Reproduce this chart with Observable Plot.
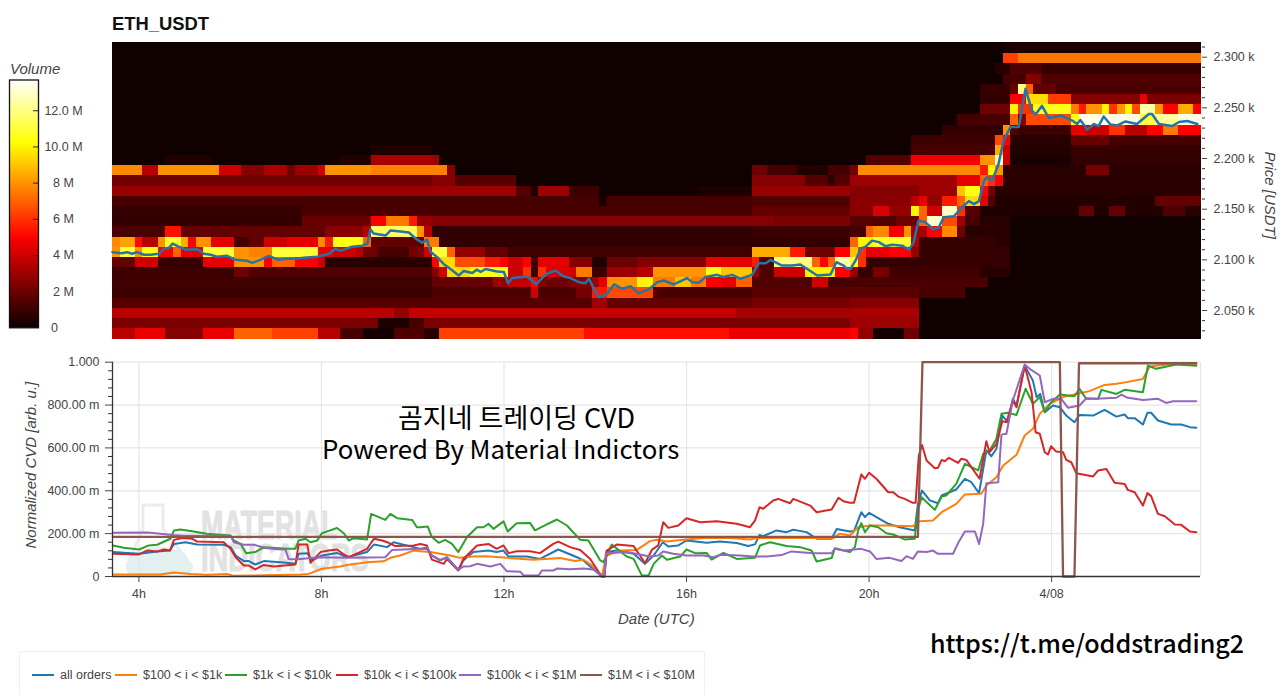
<!DOCTYPE html>
<html>
<head>
<meta charset="utf-8">
<script src="https://cdn.jsdelivr.net/npm/d3@7"></script>
<script src="https://cdn.jsdelivr.net/npm/@observablehq/plot@0.6"></script>
<style>
html,body{margin:0;padding:0;background:#fff;overflow:hidden}
#page{position:relative;width:1280px;height:695px;overflow:hidden;font-family:"Liberation Sans",Arial,sans-serif;color:#444}
#page>svg,#page>div,#page>figure{position:absolute;margin:0}
.t{white-space:nowrap;line-height:1}
.ital{font-style:italic;font-size:15px;color:#444}
.over{font-family:"Noto Sans CJK KR","Noto Sans",sans-serif;color:#000}
</style>
</head>
<body>
<div id="page"></div>
<script>
// ---- heatmap: run lengths [endColumn, volume in M, ...], 10-minute columns, rows top to bottom
const row00=[117,.1,143,.35];
const row01=[117,.1,119,6.3,143,7.4];
const row02=[116,.1,118,.6,122,1.4,143,.9];
const row03=[117,.1,120,1.2,122,2.5,143,1.4];
const row04=[114,.1,118,.9,119,1.8,120,12,121,7,124,1.8,143,1.3];
const row05=[114,.1,118,.8,120,5,123,9.5,126,6.2,135,2.5,136,4.6,143,2.3];
const row06=[114,.1,118,2,119,10,121,6,126,10.5,127,7.5,128,5.5,130,8,131,10,132,6,133,8,134,10,135,6.5,137,12.5,138,8,140,5,142,8.5,143,5];
const row07=[111,.1,118,1.2,119,7,120,2.5,126,6.5,127,10.5,135,13.3,137,11,140,12.3,143,13.3];
const row08=[109,.1,117,.8,118,8,119,1.5,126,1,128,4.5,131,4,133,6,136,3.5,138,5,140,7.5,143,5];
const row09=[105,.1,116,1,117,6.5,118,5,126,.6,131,1.9,143,1.2];
const row10=[34,.1,42,.4,105,.1,116,1.2,117,8.5,118,4,126,.5,143,.9];
const row11=[7,.1,13,.5,30,.1,34,.5,42,3.2,43,3,99,.1,105,1.5,114,4.8,116,8,117,13,118,4,126,.3,143,.8];
const row12=[4,7.8,6,3.5,14,8,17,4,20,2.5,23,3.3,24,2,27,3,28,4,34,8,44,7.6,45,2.5,84,.1,86,2,90,1.2,94,.5,97,1.2,98,2.2,114,7.8,115,5.5,116,10,117,8,128,.6,131,2.2,143,.7];
const row13=[42,2.1,45,2.5,53,1.5,84,.1,91,2.5,94,1.5,95,.8,97,1.5,111,3,114,4.5,115,7,116,6,117,5,143,.7];
const row14=[42,2.9,53,3,55,1.5,56,.4,60,3,64,1,77,.15,84,.4,97,2.9,106,2.5,111,3,112,9,114,10.5,115,5,116,2,143,.6];
const row15=[64,1.2,65,.3,84,1.2,97,1.4,105,2.6,106,3.6,107,4.5,109,2.8,111,5.5,112,7,114,9.5,115,4.5,116,1.5,137,.5,143,1.8];
const row16=[25,.9,42,1.3,84,1.2,97,1.8,100,2.6,102,4.2,105,2.8,106,10,107,7,109,4,111,13,112,6,114,1.5,127,.4,129,1.8,131,.4,133,1.8,138,.5,141,1.4,143,.6];
const row17=[25,.8,34,1.9,36,5,39,7.5,40,5.5,42,2.8,87,2.5,97,2.3,100,1.6,103,1.5,106,2,107,7,109,13,111,6.5,112,3,114,1.2,118,.6,143,.12];
const row18=[7,1.3,9,5.3,28,1.8,33,2.6,34,3.5,40,11.5,41,8,42,3.5,84,.8,97,1,99,1.2,100,7,102,7.8,104,4.8,105,8,106,3,107,3.2,109,5,111,7.8,112,2,118,.6,143,.1];
const row19=[1,7.8,3,8.3,4,5.2,6,3.5,7,8,9,10.8,10,8.5,11,5,13,8,16,4.5,18,1.2,20,1.8,23,4,27,4.5,28,7.8,29,5.5,33,10.5,34,7,41,1.8,43,7.5,97,.8,98,7,100,10,105,10.8,106,3.5,116,.9,118,.6,143,.1];
const row20=[1,8,3,11,4,8,6,10.5,8,5,9,7,12,4.5,16,11,18,8,21,7.6,27,11,29,4.5,32,4,33,3.5,35,2,39,1.2,41,2.2,42,4,44,11,45,7,49,2.8,52,1.8,84,1.1,89,8.5,91,5.5,95,2,97,5,98,9,99,6,102,4.5,105,5,106,2.8,118,.9,143,.1];
const row21=[3,1.8,6,4,12,.9,16,4.5,20,8,21,5,24,7,27,5,28,4,42,.6,43,5,45,9.5,49,6.5,51,5.5,52,5,54,4,55,5,56,1,60,4.5,63,2.5,65,.5,69,2,78,2.5,84,4.5,85,5.5,87,1.5,92,12,93,7,94,5,95,7,97,12.5,98,11,99,6,118,.9,143,.1];
const row22=[16,1,18,2,42,1.4,43,2.5,44,4,47,9.5,52,10.5,54,4,55,6,56,1,57,6,60,4.2,61,4,63,7.5,65,1,69,3,71,3.5,78,8,80,10.5,84,9,85,3,87,1.4,91,4,95,10,97,5,98,2.8,100,.9,102,2.2,114,1.1,118,.6,143,.1];
const row23=[42,1.1,50,1.8,52,3,55,3.8,56,5,57,2.5,60,2,63,2.5,64,3,65,4.5,69,8,71,10,74,7.5,76,9,78,7.5,80,5,82,4.5,84,7,92,1.4,94,4,97,1.2,115,1.3,143,.1];
const row24=[42,1,55,1.4,56,4,61,1.3,63,2.2,65,5.5,71,6.5,72,1.5,84,1.3,106,1.6,112,1.3,143,.1];
const row25=[63,1.5,65,3,84,1.8,97,2.2,106,2.5,143,.1];
const row26=[37,3.6,39,2.8,82,3.8,106,3.2,143,.1];
const row27=[35,2.3,39,.4,41,1.2,97,2.3,106,3,143,.1];
const row28=[3,3.6,7,4.6,12,2.5,16,4.6,21,7,27,6.3,30,3.5,33,1.2,37,.2,41,1.4,43,.6,62,6.3,81,5.3,97,4.6,98,5,100,2.8,104,.2,106,2,143,.1];
const volumeRows=[row00,row01,row02,row03,row04,row05,row06,row07,row08,row09,row10,row11,row12,row13,row14,row15,row16,row17,row18,row19,row20,row21,row22,row23,row24,row25,row26,row27,row28];

// ---- price line: hour, USDT
const priceLine=[3.42,2107.6,3.63,2106.6,3.74,2107.6,3.85,2106,3.96,2107.6,4.11,2105,4.25,2105,4.44,2106,4.55,2111,4.66,2112,4.74,2116,4.87,2113,5.02,2110,5.28,2110.5,5.42,2106,5.57,2105,5.71,2103,5.93,2104,6.11,2100,6.37,2099,6.48,2097,6.66,2100,6.84,2104,7.06,2100,7.24,2101,7.43,2101,7.61,2102,7.9,2103,8.16,2106,8.3,2111,8.41,2109,8.67,2113,8.89,2114,9,2116,9.07,2130,9.14,2126,9.4,2124,9.51,2129,9.73,2128,9.91,2127,10.06,2121,10.2,2117,10.31,2120,10.38,2108,10.53,2102.7,10.67,2096,10.82,2091,11,2084.6,11.11,2089,11.3,2087,11.4,2090.5,11.48,2088,11.59,2091,11.84,2088.5,11.99,2088,12.08,2077,12.17,2082,12.5,2083.6,12.7,2076,12.9,2085.6,13.12,2089.5,13.3,2083.6,13.45,2082,13.63,2078,13.78,2077,13.85,2081.6,13.96,2071.4,14.07,2063,14.25,2066.5,14.4,2075.7,14.58,2071.4,14.76,2074,14.94,2067,15.16,2070.8,15.35,2078,15.49,2079.6,15.71,2075.7,16,2082,16.11,2078,16.26,2077.3,16.4,2083,16.66,2085.2,16.8,2083,16.99,2085.2,17.17,2081.3,17.42,2085.2,17.57,2096.7,17.72,2096.7,17.83,2100,18.08,2094.4,18.3,2094.4,18.48,2095.4,18.63,2091,18.85,2084.6,19.14,2085.6,19.27,2097.7,19.43,2094.4,19.5,2091,19.58,2091.2,19.69,2099.4,19.8,2111,19.91,2113,20.05,2119,20.2,2117.5,20.34,2113.5,20.49,2115,20.71,2114,20.86,2110,20.96,2117.5,21.07,2139,21.22,2137,21.4,2130,21.51,2132,21.62,2142,21.84,2143,22.06,2153.7,22.17,2158,22.28,2155,22.39,2158,22.5,2178,22.57,2181.6,22.68,2178,22.82,2194.8,22.93,2217.8,23.08,2231,23.26,2231,23.41,2268.8,23.55,2247.4,23.63,2243.5,23.77,2252,23.92,2240,24.18,2242.5,24.43,2237.5,24.54,2234,24.61,2238,24.76,2228.7,24.91,2234,25.01,2232,25.12,2241.5,25.27,2233.6,25.42,2232.6,25.6,2236.6,25.85,2234,26.11,2244,26.18,2244,26.33,2234,26.62,2232,26.77,2236,26.95,2237,27.17,2234];

// ---- CVD series: hour, normalized value
const allOrders=[3.43,.114,4,.106,4.4,.117,4.68,.121,4.77,.152,5.02,.16,5.28,.149,5.86,.148,6.01,.137,6.12,.098,6.3,.072,6.41,.072,6.55,.056,6.74,.072,7.17,.065,7.43,.059,7.5,.106,7.69,.109,7.8,.075,8.01,.098,8.34,.11,8.56,.09,9,.114,9.15,.149,9.44,.137,9.58,.16,10.02,.137,10.17,.129,10.31,.129,10.42,.098,10.6,.075,10.75,.09,11,.031,11.11,.075,11.33,.114,11.66,.121,11.84,.114,11.99,.121,12.1,.093,12.5,.093,12.79,.082,13.19,.126,13.6,.09,13.74,.075,14.14,0,14.2,0,14.25,.114,14.47,.121,14.84,.106,15.09,.059,15.28,.098,15.48,.16,15.6,.14,15.82,.145,16,.168,16.44,.157,16.73,.163,17.1,.156,17.35,.142,17.5,.15,17.6,.194,17.68,.188,17.97,.215,18.19,.207,18.34,.218,18.63,.207,18.85,.176,19.18,.176,19.29,.222,19.58,.21,19.67,.212,19.83,.3,19.91,.277,20,.297,20.42,.246,20.67,.23,21,.215,21.07,.339,21.16,.401,21.33,.355,21.51,.342,21.59,.378,21.91,.406,22.1,.456,22.24,.44,22.41,.389,22.57,.588,22.68,.561,22.79,.596,22.92,.751,23.04,.72,23.15,.829,23.23,.798,23.41,.984,23.59,.914,23.67,.837,23.75,.852,23.85,.767,24.03,.798,24.18,.79,24.32,.751,24.5,.72,24.61,.754,24.91,.751,25.16,.778,25.42,.746,25.6,.756,25.67,.739,25.82,.739,26,.709,26.1,.764,26.18,.764,26.33,.728,26.62,.709,26.84,.709,27.03,.697,27.17,.694];
const orders100=[3.43,.009,4.47,.009,4.77,.019,5.13,.012,5.49,.008,5.93,.012,6.08,.003,7.54,.009,7.72,.012,8.01,.036,8.41,.047,8.56,.054,9,.067,9.36,.071,9.55,.09,9.73,.098,10.02,.121,10.17,.118,10.38,.114,10.6,.106,10.82,.098,11.04,.087,11.33,.093,11.62,.095,12.06,.087,12.65,.078,13.23,.086,13.56,.072,13.74,.078,13.96,.047,14.14,0,14.25,.098,14.54,.121,14.91,.124,15.2,.165,15.35,.171,15.57,.163,15.93,.171,16.37,.18,16.95,.18,17.39,.173,17.54,.18,18.19,.18,18.78,.18,19.22,.18,19.36,.2,19.58,.191,19.76,.23,20.02,.238,20.38,.238,20.96,.235,21.11,.258,21.4,.261,21.59,.3,21.91,.339,22.1,.383,22.46,.386,22.57,.425,22.79,.463,22.94,.518,23.23,.568,23.41,.658,23.59,.689,23.74,.759,23.96,.806,24.25,.837,24.54,.852,24.83,.865,25.16,.894,25.42,.899,25.64,.907,26,.922,26.15,.98,26.51,.989,26.88,.995,27.17,.989];
const orders1k=[3.43,.145,3.67,.134,4,.126,4.22,.145,4.4,.148,4.69,.176,4.77,.215,4.91,.219,5.2,.21,5.49,.199,6.01,.191,6.08,.168,6.23,.152,6.35,.109,6.55,.114,6.74,.137,7.25,.129,7.43,.129,7.5,.168,7.65,.176,7.76,.16,7.91,.168,8.01,.202,8.16,.213,8.34,.226,8.49,.202,8.6,.168,8.71,.179,9,.173,9.09,.292,9.4,.264,9.51,.292,9.66,.272,9.99,.264,10.09,.23,10.17,.23,10.33,.233,10.42,.184,10.57,.157,10.71,.171,10.86,.152,11,.114,11.19,.184,11.41,.23,11.55,.23,11.66,.246,11.77,.222,11.99,.257,12.08,.21,12.28,.249,12.57,.25,12.68,.215,12.94,.243,13.16,.266,13.38,.238,13.67,.171,13.85,.168,14.11,.075,14.18,.067,14.36,.149,14.69,.093,14.84,.082,15.02,.005,15.17,.005,15.28,.059,15.46,.098,15.57,.078,15.86,.093,16,.126,16.19,.109,16.44,.11,16.55,.079,16.81,.11,17.1,.082,17.5,.087,17.61,.145,17.83,.16,18.19,.142,18.49,.137,18.74,.121,18.85,.07,19.18,.086,19.25,.132,19.58,.114,19.69,.137,19.76,.215,19.83,.249,19.91,.207,20.02,.238,20.2,.23,20.38,.202,20.53,.196,20.78,.173,21,.176,21.07,.308,21.15,.37,21.44,.311,21.59,.373,21.69,.378,21.91,.432,22.1,.526,22.39,.495,22.5,.572,22.64,.588,22.79,.642,22.9,.759,23.04,.764,23.23,.754,23.43,.876,23.59,.806,23.74,.837,23.85,.767,23.99,.813,24.18,.849,24.5,.841,24.61,.876,24.76,.829,25.02,.829,25.09,.871,25.42,.852,25.6,.871,26,.86,26.11,.984,26.29,.969,26.73,.989,27.17,.984];
const orders10k=[3.43,.106,4,.103,4.18,.121,4.4,.117,4.55,.126,4.68,.121,4.77,.171,4.95,.18,5.17,.176,5.28,.163,5.86,.16,6.01,.129,6.12,.09,6.3,.051,6.41,.051,6.55,.033,6.74,.054,6.96,.047,7.43,.056,7.5,.149,7.69,.149,7.76,.064,7.98,.114,8.16,.121,8.34,.126,8.49,.103,8.6,.09,9,.129,9.15,.176,9.33,.168,9.44,.16,9.62,.142,10.02,.145,10.17,.152,10.31,.145,10.42,.079,10.68,.059,10.75,.082,11,.028,11.11,.082,11.41,.145,11.66,.152,11.84,.129,11.99,.145,12.1,.109,12.28,.118,12.57,.118,12.79,.109,13.08,.152,13.19,.163,13.45,.137,13.67,.124,13.89,.082,14.14,0,14.2,0,14.25,.121,14.47,.149,14.84,.142,14.98,.098,15.09,.062,15.24,.124,15.38,.145,15.49,.253,15.6,.227,15.82,.238,16,.272,16.3,.253,16.66,.258,17.1,.246,17.39,.23,17.5,.261,17.6,.323,17.68,.316,17.9,.355,18.01,.362,18.27,.342,18.34,.362,18.71,.331,18.85,.3,19.18,.313,19.33,.367,19.44,.351,19.58,.344,19.67,.344,19.83,.476,19.91,.456,20,.484,20.16,.456,20.42,.393,20.53,.393,20.64,.373,20.78,.362,20.96,.344,21.02,.344,21.09,.565,21.16,.614,21.26,.541,21.44,.505,21.51,.507,21.59,.544,21.66,.538,21.75,.554,21.95,.53,22.02,.549,22.13,.544,22.42,.456,22.57,.631,22.64,.58,22.79,.619,22.92,.725,23.01,.72,23.15,.821,23.23,.79,23.41,.984,23.56,.86,23.65,.673,23.74,.666,23.85,.58,23.92,.569,23.99,.608,24.1,.583,24.25,.58,24.32,.544,24.43,.533,24.54,.482,24.91,.467,25.02,.495,25.2,.502,25.38,.437,25.6,.432,25.67,.404,25.82,.393,26,.331,26.1,.389,26.18,.375,26.33,.292,26.48,.281,26.7,.243,26.84,.241,27.03,.21,27.17,.207];
const orders100k=[3.43,.204,4.18,.205,4.47,.2,4.73,.194,4.99,.19,6.01,.19,6.08,.16,6.3,.148,6.52,.148,6.74,.134,7.03,.127,7.21,.126,7.28,.082,7.47,.08,7.98,.09,8.56,.087,9.4,.09,9.55,.124,10.17,.129,10.31,.137,10.42,.098,10.6,.078,10.75,.087,11,.031,11.11,.047,11.26,.048,11.41,.059,11.7,.047,11.92,.059,12.06,.025,12.36,.022,12.43,.005,12.76,.005,12.83,.028,13.08,.028,13.16,.037,13.45,.034,13.74,.037,14,.031,14.14,0,14.2,0,14.23,.106,14.36,.11,14.69,.114,14.98,.103,15.2,.093,15.38,.098,15.49,.117,15.71,.106,16,.098,16.37,.098,16.59,.09,16.73,.101,17.17,.098,17.46,.093,17.76,.093,18.08,.1,18.3,.117,18.78,.109,19.18,.109,19.25,.129,19.44,.121,19.58,.124,19.83,.129,20.02,.117,20.16,.082,20.45,.087,20.71,.072,20.82,.095,20.96,.082,21.07,.117,21.26,.114,21.4,.121,21.51,.106,21.84,.106,21.95,.156,22.1,.21,22.32,.21,22.41,.152,22.5,.246,22.57,.435,22.83,.44,22.9,.662,23.01,.666,23.15,.821,23.41,.989,23.52,.969,23.74,.938,23.85,.813,24.03,.829,24.21,.829,24.36,.787,24.61,.798,24.76,.832,24.98,.829,25.42,.834,25.53,.849,25.67,.834,26,.824,26.33,.829,26.51,.81,26.66,.818,27.17,.818];
const orders1M=[3.43,.185,21,.185,21.07,.185,21.17,1,24.18,1,24.25,0,24.5,0,24.6,.995,27.17,.995];

const seriesNames=["all orders","$100 < i < $1k","$1k < i < $10k","$10k < i < $100k","$100k < i < $1M","$1M < i < $10M"];
const seriesColors=["#1f77b4","#ff7f0e","#2ca02c","#d62728","#9467bd","#8c564b"];
const seriesData=[allOrders,orders100,orders1k,orders10k,orders100k,orders1M];

// ---- ticks and labels
const priceTicks=[2050,2100,2150,2200,2250,2300];
const priceMinor=[2030,2040,2060,2070,2080,2090,2110,2120,2130,2140,2160,2170,2180,2190,2210,2220,2230,2240,2260,2270,2280,2290,2310];
const cvdTicks=[0,.2,.4,.6,.8,1];
const cvdMinor=[.04,.08,.12,.16,.24,.28,.32,.36,.44,.48,.52,.56,.64,.68,.72,.76,.84,.88,.92,.96];
const timeTicks=[4,8,12,16,20,24];
const timeLabels=["4h","8h","12h","16h","20h","4/08"];
const volumeTicks=[2,4,6,8,10,12];
const legendX=[32,115,225,336,459,580];

const page=document.getElementById("page");
const at=h=>new Date(Date.UTC(2021,3,7)+h*36e5);
const pairs=a=>d3.range(0,a.length,2).map(i=>({h:a[i],v:a[i+1]}));
const tStart=3.422, tEnd=27.262, colHours=1/6;
const pTop=2303.4, pStep=10.05, pMin=2021.4, pMax=2314.5;
const colorScale={type:"linear",domain:[0,5,10.2,13.7],range:["#0b0000","#ff0000","#ffff00","#ffffff"]};
const baseStyle={background:"transparent",fontFamily:'"Liberation Sans",Arial,sans-serif',fontSize:"12.5px",color:"#444",overflow:"visible"};

// expand runs
const cells=[];
volumeRows.forEach((row,k)=>{
  let start=0;
  for(let i=0;i<row.length;i+=2){
    cells.push({
      c0:at(tStart+start*colHours),c1:at(tStart+row[i]*colHours),
      p1:k===0?pMax:pTop-(k-1)*pStep,
      p0:k===volumeRows.length-1?pMin:pTop-k*pStep,
      v:row[i+1]});
    start=row[i];
  }
});

function place(el,left,top){el.style.position="absolute";el.style.left=left+"px";el.style.top=top+"px";page.appendChild(el);return el;}
function label(text,left,top,cls,extra){const d=document.createElement("div");d.className="t "+(cls||"");d.textContent=text;Object.assign(d.style,extra||{});return place(d,left,top);}

// watermark under the CVD chart
const wm=document.createElement("div");
wm.innerHTML=`<svg width="74" height="72" viewBox="0 0 74 72" style="display:block"><path d="M18 2H38V26L66 62Q68 70 58 70H10Q0 70 3 60L18 26Z" fill="none" stroke="#ebebeb" stroke-width="3"/><path d="M8 50Q34 38 60 50L66 62Q68 70 58 70H10Q0 70 3 60Z" fill="#e3f0f0"/></svg>`;
place(wm,125,503);
const wmStyle={fontFamily:'"Liberation Sans",sans-serif',fontWeight:"bold",fontSize:"40px",color:"#e2e2e2",transform:"scaleX(.67)",transformOrigin:"left center",WebkitTextStroke:"1px #e2e2e2"};
label("MATERIAL",201,505,"",wmStyle);
label("INDICATORS",201,539,"",Object.assign({},wmStyle,{fontSize:"38px",transform:"scaleX(.72)"}));

// heatmap + price line
page.appendChild(Plot.plot({
  width:1280,height:345,marginLeft:112,marginRight:79,marginTop:42,marginBottom:6,
  style:baseStyle,
  x:{type:"utc",domain:[at(tStart),at(tEnd)],axis:null},
  y:{domain:[pMin,pMax],axis:null},
  color:colorScale,
  marks:[
    Plot.rect(cells,{x1:"c0",x2:"c1",y1:"p0",y2:"p1",fill:"v",shapeRendering:"crispEdges"}),
    Plot.line(pairs(priceLine),{x:d=>at(d.h),y:"v",stroke:"#2673a8",strokeWidth:2.5}),
    Plot.axisY({anchor:"right",ticks:priceMinor,tickSize:3,tickFormat:()=>"",label:null,color:"#333"}),
    Plot.axisY({anchor:"right",ticks:priceTicks,tickSize:5,tickPadding:7,tickFormat:d=>(d/1000).toFixed(3)+" k",label:null,color:"#444"})
  ]
}));
page.lastChild.style.cssText+=";position:absolute;left:0;top:0";

// CVD chart
const cvdMarks=[
  Plot.ruleY(cvdTicks.slice(1),{stroke:"#e6e6e6",strokeWidth:1.2}),
  Plot.ruleX(timeTicks.map(at),{stroke:"#e6e6e6",strokeWidth:1.2}),
  Plot.ruleX([at(tEnd)],{stroke:"#e6e6e6",strokeWidth:1.2})
];
seriesData.forEach((s,i)=>cvdMarks.push(Plot.line(pairs(s),{x:d=>at(d.h),y:"v",stroke:seriesColors[i],strokeWidth:i===5?2.3:2,strokeLinejoin:"round"})));
cvdMarks.push(
  Plot.ruleY([0],{stroke:"#333",strokeWidth:1.3}),
  Plot.ruleX([at(tStart)],{stroke:"#333",strokeWidth:1.3}),
  Plot.axisY({ticks:cvdMinor,tickSize:4,tickFormat:()=>"",label:null,color:"#333"}),
  Plot.axisY({ticks:cvdTicks,tickSize:7,tickPadding:6,tickFormat:d=>d===0?"0":d===1?"1.000":(d*1000).toFixed(2)+" m",label:null,color:"#444"}),
  Plot.axisX({ticks:timeTicks.map(at),tickSize:6,tickPadding:7,tickFormat:d=>timeLabels[timeTicks.indexOf((d-at(0))/36e5)],label:null,color:"#444"})
);
page.appendChild(Plot.plot({
  width:1280,height:280,marginLeft:112,marginRight:80,marginTop:11.7,marginBottom:54,
  style:baseStyle,
  x:{type:"utc",domain:[at(tStart),at(tEnd)]},
  y:{domain:[0,1]},
  marks:cvdMarks
}));
page.lastChild.style.cssText+=";position:absolute;left:0;top:350px";

// colorbar
const vMax=13.7;
page.appendChild(Plot.plot({
  width:100,height:280,marginLeft:9,marginRight:62,marginTop:19.5,marginBottom:12.7,
  style:baseStyle,
  x:{domain:[0,1],axis:null},
  y:{domain:[0,vMax],axis:null},
  color:colorScale,
  marks:[
    Plot.raster({x1:0,x2:1,y1:0,y2:vMax,width:1,height:248,fill:(x,y)=>y}),
    Plot.tickY(volumeTicks,{y:d=>d,insetLeft:24,stroke:"#222"}),
    Plot.frame({stroke:"#111",strokeWidth:1.3}),
    Plot.axisY({anchor:"right",ticks:volumeTicks,tickSize:0,tickPadding:25,textAnchor:"middle",tickFormat:d=>d>=10?d.toFixed(1)+" M":d+" M",label:null,color:"#444"}),
    Plot.axisY({anchor:"right",ticks:[0],tickSize:0,tickPadding:16,textAnchor:"middle",tickFormat:d=>"0",label:null,color:"#444"})
  ]
}));
page.lastChild.style.cssText+=";position:absolute;left:0;top:60px";

// titles
label("ETH_USDT",112,15,"",{fontWeight:"bold",fontSize:"18.4px",color:"#111"});
label("Volume",10,61,"ital");
label("Price [USDT]",1230,184,"ital",{transform:"rotate(90deg)",width:"80px",textAlign:"center"});
label("Normalized CVD [arb. u.]",-50,461,"ital",{transform:"rotate(-90deg)",width:"160px",textAlign:"center"});
label("Date (UTC)",618,611,"ital");

// overlay captions
label("곰지네 트레이딩 CVD",398,403,"over",{fontSize:"27px"});
label("Powered By Material Indictors",322,435,"over",{fontSize:"25.8px"});
label("https://t.me/oddstrading2",930,630,"over",{fontSize:"25.1px",fontWeight:"500"});

// legend
const lg=document.createElement("div");
lg.style.cssText="width:686px;height:60px;border:1px solid #efefef;box-sizing:border-box";
place(lg,19,651);
seriesNames.forEach((n,i)=>{
  const sw=document.createElement("div");
  sw.style.cssText=`width:22px;height:2px;background:${seriesColors[i]}`;
  place(sw,legendX[i],674);
  label(n,legendX[i]+28,669,"",{fontSize:"12.5px",color:"#444"});
});
</script>
</body>
</html>
